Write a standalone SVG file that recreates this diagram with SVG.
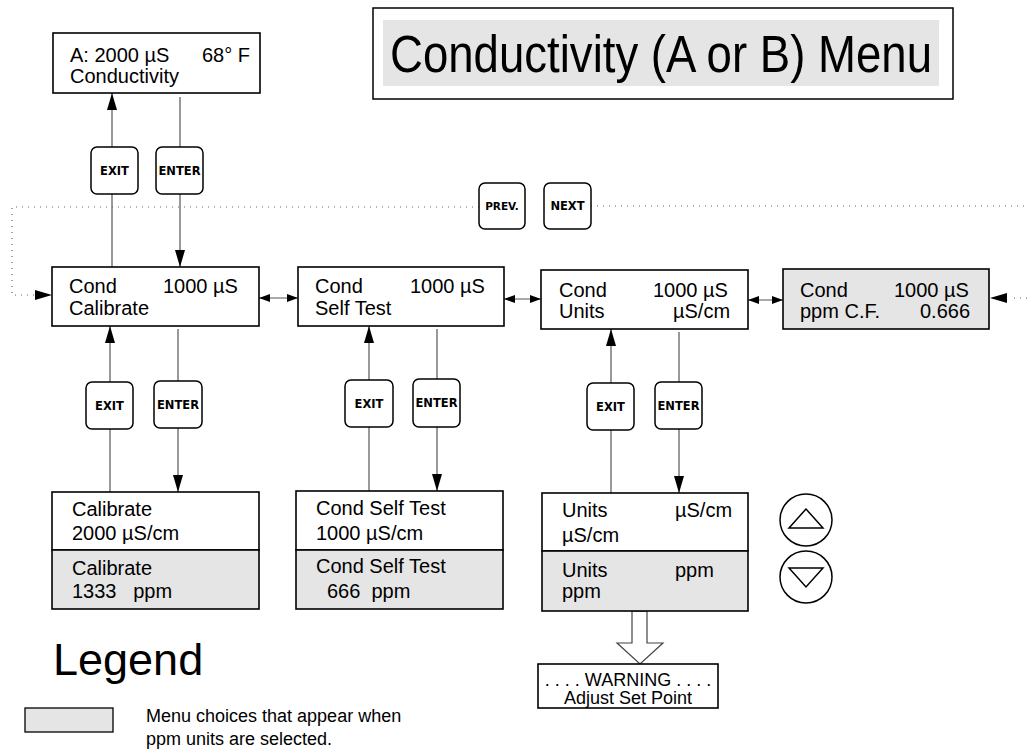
<svg xmlns="http://www.w3.org/2000/svg" width="1027" height="756" viewBox="0 0 1027 756">
<style>
  .box { fill: #ffffff; stroke: #000000; stroke-width: 1.6; }
  .gbox { fill: #e5e5e5; stroke: #000000; stroke-width: 1.6; }
  .btn { fill: #ffffff; stroke: #000000; stroke-width: 1.5; }
  .t { font-family: "Liberation Sans", Arial, sans-serif; font-size: 20px; fill: #000000; }
  .bt { font-family: "DejaVu Sans", "Liberation Sans", sans-serif; font-size: 11.5px; font-weight: bold; fill: #000000; text-anchor: middle; }
  .ln { stroke: #555555; stroke-width: 1.2; fill: none; }
  .dot { stroke: #666666; stroke-width: 1.2; fill: none; stroke-dasharray: 1 5; }
</style>
<defs>
  <marker id="ah" viewBox="0 0 17 10" refX="17" refY="5" markerWidth="17" markerHeight="10" markerUnits="userSpaceOnUse" orient="auto-start-reverse">
    <path d="M0,0 L17,5 L0,10 z" fill="#000000"/>
  </marker>
  <marker id="sa" viewBox="0 0 11 8" refX="11" refY="4" markerWidth="11" markerHeight="8" markerUnits="userSpaceOnUse" orient="auto-start-reverse">
    <path d="M0,0 L11,4 L0,8 z" fill="#000000"/>
  </marker>
</defs>
<rect width="1027" height="756" fill="#ffffff"/>

<g id="title">
  <rect x="373" y="8" width="580" height="91" fill="#ffffff" stroke="#000000" stroke-width="1.5"/>
  <rect x="383" y="20" width="556" height="66" fill="#e5e5e5"/>
  <text x="390" y="72" font-family="Liberation Sans, Arial, sans-serif" font-size="51" textLength="542" lengthAdjust="spacingAndGlyphs">Conductivity (A or B) Menu</text>
</g>

<g id="connectors">
  <line class="ln" x1="112" y1="267" x2="112" y2="93" marker-end="url(#ah)"/>
  <line class="ln" x1="180" y1="97" x2="180" y2="267" marker-end="url(#ah)"/>
  <path class="dot" d="M479,207 H12 V295 H34"/>
  <line x1="34" y1="295" x2="52" y2="295" stroke="none" marker-end="url(#ah)"/>
  <path class="dot" d="M591,206 H1027"/>
  <path class="dot" d="M1027,298 H1009"/>
  <line x1="1009" y1="298" x2="990" y2="298" stroke="none" marker-end="url(#ah)"/>
  <line class="ln" x1="259" y1="298" x2="298" y2="298" marker-start="url(#sa)" marker-end="url(#sa)"/>
  <line class="ln" x1="504" y1="299" x2="541" y2="299" marker-start="url(#sa)" marker-end="url(#sa)"/>
  <line class="ln" x1="748" y1="300" x2="783" y2="300" marker-start="url(#sa)" marker-end="url(#sa)"/>
  <line class="ln" x1="110" y1="492" x2="110" y2="326" marker-end="url(#ah)"/>
  <line class="ln" x1="178" y1="329" x2="178" y2="492" marker-end="url(#ah)"/>
  <line class="ln" x1="369" y1="491" x2="369" y2="326" marker-end="url(#ah)"/>
  <line class="ln" x1="437" y1="329" x2="437" y2="491" marker-end="url(#ah)"/>
  <line class="ln" x1="611" y1="493" x2="611" y2="329" marker-end="url(#ah)"/>
  <line class="ln" x1="679" y1="332" x2="679" y2="493" marker-end="url(#ah)"/>
  <polygon points="632,611 632,643 617,643 640,664 663,643 647,643 647,611" fill="#ffffff" stroke="#444444" stroke-width="1.2"/>
</g>

<g id="btn-exit-top"><rect class="btn" x="91" y="147" width="47" height="47" rx="6"/><text class="bt" x="114.5" y="175">EXIT</text></g>
<g id="btn-enter-top"><rect class="btn" x="156" y="147" width="47" height="47" rx="6"/><text class="bt" x="179.5" y="175">ENTER</text></g>
<g id="btn-prev"><rect class="btn" x="479" y="183" width="46" height="46" rx="6"/><text class="bt" x="502" y="210" style="font-size:10.5px">PREV.</text></g>
<g id="btn-next"><rect class="btn" x="544" y="183" width="47" height="46" rx="6"/><text class="bt" x="567.5" y="210">NEXT</text></g>
<g id="btn-exit-1"><rect class="btn" x="86" y="382" width="47" height="47" rx="6"/><text class="bt" x="109.5" y="410">EXIT</text></g>
<g id="btn-enter-1"><rect class="btn" x="154" y="381" width="48" height="47" rx="6"/><text class="bt" x="178" y="409">ENTER</text></g>
<g id="btn-exit-2"><rect class="btn" x="345" y="380" width="48" height="47" rx="6"/><text class="bt" x="369" y="408">EXIT</text></g>
<g id="btn-enter-2"><rect class="btn" x="413" y="379" width="47" height="48" rx="6"/><text class="bt" x="436.5" y="407">ENTER</text></g>
<g id="btn-exit-3"><rect class="btn" x="587" y="383" width="47" height="47" rx="6"/><text class="bt" x="610.5" y="411">EXIT</text></g>
<g id="btn-enter-3"><rect class="btn" x="655" y="382" width="47" height="47" rx="6"/><text class="bt" x="678.5" y="410">ENTER</text></g>

<g id="node-main">
  <rect class="box" x="53" y="33" width="207" height="60"/>
  <text class="t" x="70" y="62">A: 2000 µS</text>
  <text class="t" x="202" y="62">68° F</text>
  <text class="t" x="70" y="83">Conductivity</text>
</g>

<g id="node-calibrate">
  <rect class="box" x="52" y="267" width="207" height="59"/>
  <text class="t" x="69" y="293">Cond</text>
  <text class="t" x="163" y="293">1000 µS</text>
  <text class="t" x="69" y="315">Calibrate</text>
</g>

<g id="node-selftest">
  <rect class="box" x="298" y="267" width="206" height="59"/>
  <text class="t" x="315" y="293">Cond</text>
  <text class="t" x="410" y="293">1000 µS</text>
  <text class="t" x="315" y="315">Self Test</text>
</g>

<g id="node-units">
  <rect class="box" x="541" y="270" width="207" height="59"/>
  <text class="t" x="559" y="297">Cond</text>
  <text class="t" x="653" y="297">1000 µS</text>
  <text class="t" x="559" y="318">Units</text>
  <text class="t" x="673" y="318">µS/cm</text>
</g>

<g id="node-ppmcf">
  <rect class="gbox" x="783" y="269" width="206" height="60"/>
  <text class="t" x="800" y="297">Cond</text>
  <text class="t" x="894" y="297">1000 µS</text>
  <text class="t" x="800" y="318">ppm C.F.</text>
  <text class="t" x="920" y="318">0.666</text>
</g>

<g id="node-calibrate-sub">
  <rect class="box" x="52" y="492" width="207" height="58"/>
  <rect class="gbox" x="52" y="550" width="207" height="59"/>
  <text class="t" x="72" y="516">Calibrate</text>
  <text class="t" x="72" y="540">2000 µS/cm</text>
  <text class="t" x="72" y="575">Calibrate</text>
  <text class="t" x="72" y="598" xml:space="preserve">1333   ppm</text>
</g>

<g id="node-selftest-sub">
  <rect class="box" x="296" y="491" width="207" height="59"/>
  <rect class="gbox" x="296" y="550" width="207" height="59"/>
  <text class="t" x="316" y="515">Cond Self Test</text>
  <text class="t" x="316" y="540">1000 µS/cm</text>
  <text class="t" x="316" y="573">Cond Self Test</text>
  <text class="t" x="327" y="598" xml:space="preserve">666  ppm</text>
</g>

<g id="node-units-sub">
  <rect class="box" x="542" y="493" width="206" height="58"/>
  <rect class="gbox" x="542" y="551" width="206" height="60"/>
  <text class="t" x="562" y="517">Units</text>
  <text class="t" x="675" y="517">µS/cm</text>
  <text class="t" x="562" y="542">µS/cm</text>
  <text class="t" x="562" y="577">Units</text>
  <text class="t" x="675" y="577">ppm</text>
  <text class="t" x="562" y="598">ppm</text>
</g>

<g id="btn-up">
  <circle cx="806" cy="520" r="26" fill="#ffffff" stroke="#000000" stroke-width="1.5"/>
  <polygon points="806,509 789,528 823,528" fill="#ffffff" stroke="#000000" stroke-width="1.5"/>
</g>
<g id="btn-down">
  <circle cx="806" cy="577" r="26" fill="#ffffff" stroke="#000000" stroke-width="1.5"/>
  <polygon points="789,568 823,568 806,587" fill="#ffffff" stroke="#000000" stroke-width="1.5"/>
</g>

<g id="node-warning">
  <rect class="box" x="538" y="664" width="180" height="44"/>
  <text class="t" x="628" y="686" text-anchor="middle" style="font-size:18px">. . . . WARNING . . . .</text>
  <text class="t" x="628" y="704" text-anchor="middle" style="font-size:18px">Adjust Set Point</text>
</g>

<g id="legend">
  <text x="53" y="675" font-family="Liberation Sans, Arial, sans-serif" font-size="45">Legend</text>
  <rect class="gbox" x="25" y="708" width="88" height="24" style="stroke-width:1.3"/>
  <text class="t" x="146" y="722" style="font-size:18px">Menu choices that appear when</text>
  <text class="t" x="146" y="745" style="font-size:18px">ppm units are selected.</text>
</g>
</svg>
